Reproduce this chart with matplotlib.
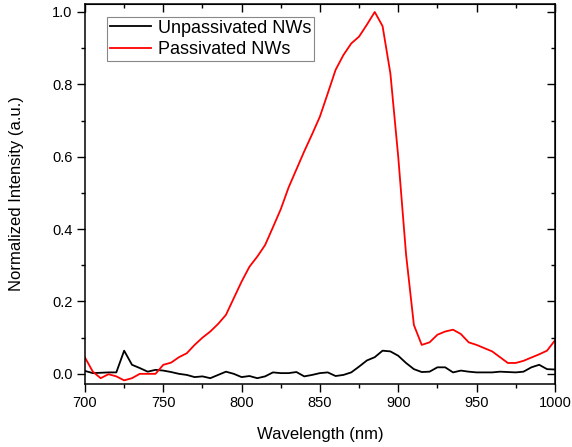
import matplotlib
matplotlib.use('Agg')
import matplotlib.pyplot as plt
import numpy as np
from matplotlib.ticker import MultipleLocator

plt.rcParams['font.family'] = ['Liberation Sans', 'DejaVu Sans']

# wavelength grid (nm), 5 nm steps
wavelength = np.arange(700, 1001, 5)

# Unpassivated NWs
unpassivated = [0.008, 0.002, 0.003, 0.004, 0.004, 0.064, 0.025, 0.016, 0.006, 0.011,
                0.009, 0.005, 0.000, -0.003, -0.009, -0.007, -0.012, -0.003, 0.006, 0.000,
                -0.009, -0.006, -0.012, -0.007, 0.004, 0.002, 0.002, 0.005, -0.007, -0.003,
                0.002, 0.004, -0.006, -0.003, 0.004, 0.020, 0.037, 0.046, 0.064, 0.062,
                0.050, 0.030, 0.013, 0.005, 0.006, 0.018, 0.018, 0.004, 0.009, 0.006,
                0.004, 0.004, 0.004, 0.006, 0.005, 0.004, 0.006, 0.018, 0.025, 0.013,
                0.012]

# Passivated NWs
passivated = [0.045, 0.006, -0.012, -0.001, -0.007, -0.018, -0.012, 0.000, 0.000, 0.000,
              0.025, 0.031, 0.046, 0.057, 0.080, 0.100, 0.117, 0.138, 0.163, 0.209,
              0.255, 0.296, 0.324, 0.356, 0.405, 0.455, 0.515, 0.565, 0.615, 0.662,
              0.711, 0.775, 0.840, 0.881, 0.913, 0.932, 0.965, 1.000, 0.961, 0.830,
              0.600, 0.330, 0.135, 0.080, 0.087, 0.108, 0.117, 0.122, 0.110, 0.087,
              0.080, 0.071, 0.062, 0.046, 0.030, 0.030, 0.036, 0.045, 0.054, 0.064,
              0.092]

fig = plt.figure(figsize=(5.72, 4.47), dpi=100)
ax = fig.add_axes([0.1486, 0.141, 0.8214, 0.850])

ax.plot(wavelength, unpassivated, color='black', lw=1.3, label='Unpassivated NWs')
ax.plot(wavelength, passivated, color='#ff0000', lw=1.3, label='Passivated NWs')

ax.set_xlim(700, 1000)
ax.set_ylim(-0.028, 1.022)
ax.xaxis.set_major_locator(MultipleLocator(50))
ax.xaxis.set_minor_locator(MultipleLocator(25))
ax.yaxis.set_major_locator(MultipleLocator(0.2))
ax.yaxis.set_minor_locator(MultipleLocator(0.1))
ax.yaxis.set_major_formatter(plt.FuncFormatter(lambda v, p: f'{v:.1f}'))

for s in ax.spines.values():
    s.set_linewidth(1.1)

# outward ticks on left/bottom, inward mirror ticks on top/right
ax.tick_params(which='both', top=False, right=False, direction='out', width=1.0, labelsize=10.5)
ax.tick_params(which='major', length=5.5)
ax.tick_params(which='minor', length=3)

sec_x = ax.secondary_xaxis('top')
sec_x.set_xticks(np.arange(700, 1001, 50), labels=[])
sec_x.xaxis.set_minor_locator(MultipleLocator(25))
sec_x.tick_params(which='both', direction='in', width=1.0)
sec_x.tick_params(which='major', length=5.5)
sec_x.tick_params(which='minor', length=3)

sec_y = ax.secondary_yaxis('right')
sec_y.set_yticks(np.arange(0, 1.01, 0.2), labels=[])
sec_y.yaxis.set_minor_locator(MultipleLocator(0.1))
sec_y.tick_params(which='both', direction='in', width=1.0)
sec_y.tick_params(which='major', length=5.5)
sec_y.tick_params(which='minor', length=3)

ax.set_xlabel('Wavelength (nm)', fontsize=12, labelpad=12)
ax.set_ylabel('Normalized Intensity (a.u.)', fontsize=12, labelpad=20)

leg = ax.legend(loc='upper left', bbox_to_anchor=(0.047, 0.966), fontsize=13,
                frameon=True, fancybox=False, edgecolor='#888888', framealpha=1,
                handlelength=2.3, handletextpad=0.35, borderpad=0.15, labelspacing=0.25,
                borderaxespad=0)
leg.get_frame().set_linewidth(0.8)

fig.savefig('out.png', dpi=100)
